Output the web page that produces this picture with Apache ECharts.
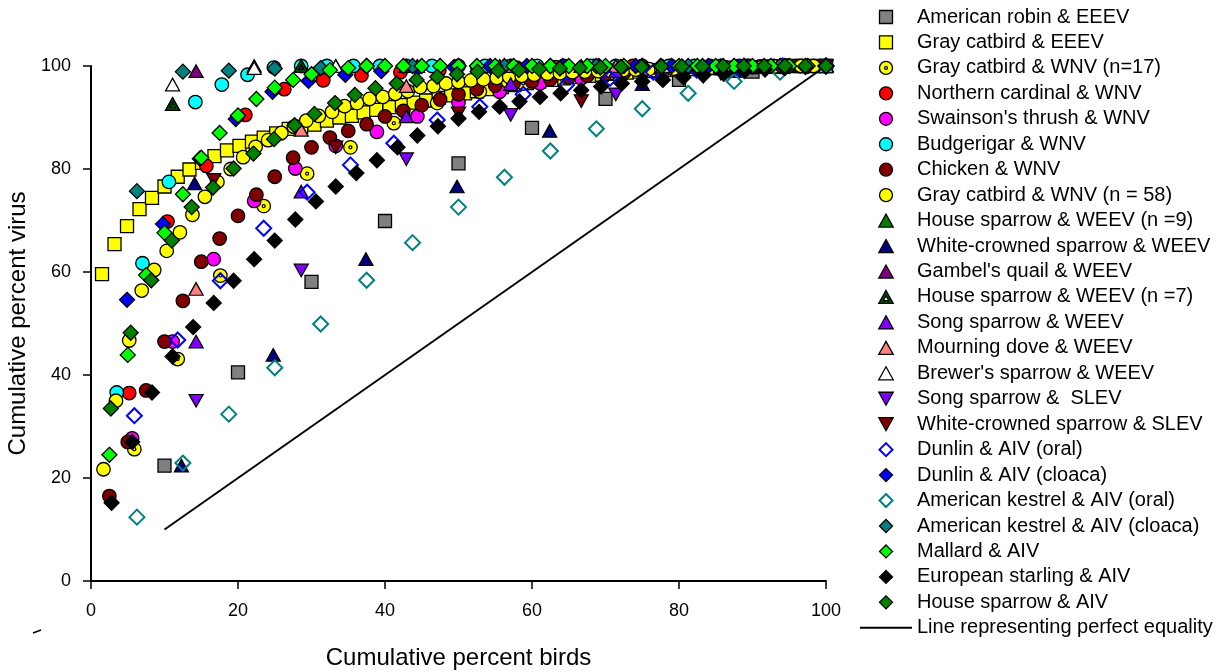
<!DOCTYPE html>
<html>
<head>
<meta charset="utf-8">
<title>Cumulative percent virus vs cumulative percent birds</title>
<script src="https://cdn.jsdelivr.net/npm/echarts@6/dist/echarts.min.js"></script>
<style>
  html, body { margin: 0; padding: 0; background: #fff; }
  #chart { width: 1226px; height: 672px; }
</style>
</head>
<body>
<div id="chart"></div>
<script>
// values (x = cumulative % birds, y = cumulative % virus)
const xTicks = [0, 20, 40, 60, 80, 100]

const robinX = [10, 20, 30, 40, 50, 60, 70, 80, 90, 100]
const robinY = [22.4, 40.5, 58.1, 69.9, 81.1, 88.0, 93.6, 97.3, 98.9, 100]

const catbirdEeevX = [1.5, 3.2, 4.9, 6.6, 8.3, 10.0, 11.8, 13.4, 15.1, 16.8, 18.5, 20.2, 21.9, 23.5, 25.2, 26.9, 28.6, 30.4, 32.1, 33.8,
  35.5, 37.1, 38.8, 40.6, 42.3, 43.9, 45.6, 47.3, 49.0, 50.9, 52.5, 54.2, 55.9, 57.6, 59.3, 61.0, 62.7, 64.4, 66.1, 67.8,
  69.5, 71.2, 72.9, 74.6, 76.3, 78.0, 79.7, 81.4, 83.1, 84.8, 86.5, 88.2, 89.9, 91.6, 93.3, 95.0, 96.7, 98.4, 100]
const catbirdEeevY = [59.6, 65.4, 68.9, 72.2, 74.4, 76.6, 78.5, 79.9, 81.2, 82.5, 83.6, 84.5, 85.3, 86.1, 86.9, 87.8, 88.2, 88.6, 89.4, 90.0,
  90.3, 91.0, 91.5, 92.0, 92.4, 92.9, 93.3, 93.8, 94.3, 94.7, 95.1, 95.5, 95.9, 96.3, 96.7, 97.0, 97.3, 97.6, 97.9, 98.1,
  98.3, 98.5, 98.7, 98.9, 99.0, 99.2, 99.3, 99.4, 99.5, 99.6, 99.7, 99.8, 99.8, 99.9, 99.9, 100, 100, 100, 100]

const catbird17X = [5.9, 11.8, 17.6, 23.5, 29.4, 35.3, 41.2, 47.1, 52.9, 58.8, 64.7, 70.6, 76.5, 82.4, 88.2, 94.1, 100]
const catbird17Y = [25.6, 43.1, 59.3, 72.8, 79.1, 84.2, 88.9, 92.8, 95.0, 96.6, 97.8, 98.6, 99.2, 99.6, 100, 100, 100]

const cardinalX = [5.2, 10.4, 15.7, 21.0, 26.3, 31.6, 36.8, 42.1, 47.4, 52.6, 57.9, 63.2, 68.4, 73.7, 78.9, 84.2, 89.5, 94.7, 100]
const cardinalY = [36.5, 69.8, 80.6, 90.5, 95.5, 97.2, 98.2, 98.8, 99.2, 99.5, 99.7, 99.8, 100, 100, 100, 100, 100, 100, 100]

const thrushX = [5.6, 11.1, 16.7, 22.2, 27.8, 33.3, 38.9, 44.4, 50, 55.6, 61.1, 66.7, 72.2, 77.8, 83.3, 88.9, 94.4, 100]
const thrushY = [27.7, 46.5, 62.5, 73.8, 80.1, 84.5, 87.2, 90.2, 92.9, 95.0, 96.6, 97.6, 98.4, 99.0, 99.5, 99.8, 100, 100]

const budgieX = [3.5, 7.0, 10.6, 14.2, 17.8, 21.3, 24.9, 28.6, 32.1, 35.7, 39.3, 42.9, 46.4, 50, 53.6, 57.1, 60.7, 64.3,
  67.9, 71.4, 75, 78.6, 82.1, 85.7, 89.3, 92.9, 96.4, 100]
const budgieY = [36.6, 61.7, 77.5, 93.0, 96.4, 98.3, 99.7, 100, 100, 100, 100, 100, 100, 100, 100, 100, 100, 100,
  100, 100, 100, 100, 100, 100, 100, 100, 100, 100]

const chickenX = [2.5, 5, 7.5, 10, 12.5, 15, 17.5, 20, 22.5, 25, 27.5, 30, 32.5, 35, 37.5, 40, 42.5, 45, 47.5, 50,
  52.5, 55, 57.5, 60, 62.5, 65, 67.5, 70, 72.5, 75, 77.5, 80, 82.5, 85, 87.5, 90, 92.5, 95, 97.5, 100]
const chickenY = [16.5, 27.0, 37.0, 46.5, 54.4, 62.0, 66.5, 70.9, 75.0, 78.5, 82.2, 84.2, 86.1, 87.4, 88.7, 90.2, 91.3, 92.4, 93.5, 94.5,
  95.5, 96.2, 96.6, 97.0, 97.4, 97.8, 98.1, 98.4, 98.7, 98.9, 99.1, 99.3, 99.5, 99.6, 99.7, 99.8, 99.9, 100, 100, 100]

const catbird58X = [1.7, 3.4, 5.2, 6.9, 8.6, 10.3, 12.1, 13.8, 15.5, 17.2, 19.0, 20.7, 22.4, 24.1, 25.9, 27.6, 29.3, 31.0, 32.8, 34.5,
  36.2, 37.9, 39.7, 41.4, 43.1, 44.8, 46.6, 48.3, 50.0, 51.7, 53.4, 55.2, 56.9, 58.6, 60.3, 62.1, 63.8, 65.5, 67.2, 69.0,
  70.7, 72.4, 74.1, 75.9, 77.6, 79.3, 81.0, 82.8, 84.5, 86.2, 87.9, 89.7, 91.4, 93.1, 94.8, 96.6, 98.3, 100]
const catbird58Y = [21.7, 35.0, 46.7, 56.4, 60.4, 64.1, 67.7, 71.1, 74.6, 77.5, 80.0, 82.3, 84.3, 85.6, 87.0, 88.2, 89.4, 90.3, 91.1, 92.2,
  92.8, 93.6, 94.0, 94.6, 95.1, 95.9, 96.1, 96.6, 96.9, 97.2, 97.4, 97.7, 97.9, 98.1, 98.3, 98.5, 98.6, 98.8, 98.9, 99.0,
  99.1, 99.2, 99.3, 99.4, 99.5, 99.5, 99.6, 99.7, 99.7, 99.8, 99.8, 99.9, 99.9, 99.9, 100, 100, 100, 100]

const hsWeev9X = [11.1, 22.2, 33.3, 44.4, 55.6, 66.7, 77.8, 88.9, 100]
const hsWeev9Y = [92.6, 100, 100, 100, 100, 100, 100, 100, 100]

const wcsWeevX = [12.3, 14.1, 24.8, 37.4, 49.8, 62.4, 75, 87.5, 100]
const wcsWeevY = [22.4, 77.2, 43.9, 62.5, 76.6, 87.4, 96.5, 99.0, 100]

const quailX = [14.3, 28.6, 42.9, 57.1, 71.4, 85.7, 100]
const quailY = [99.0, 100, 100, 100, 100, 100, 100]

const hsWeev7X = [11.1, 28.6, 42.9, 57.1, 71.4, 85.7, 100]
const hsWeev7Y = [92.6, 100, 100, 100, 100, 100, 100]

const songWeevX = [14.3, 28.6, 42.9, 57.1, 71.4, 85.7, 100]
const songWeevY = [46.5, 75.6, 90.2, 96.5, 99.0, 100, 100]

const doveX = [14.3, 28.6, 42.9, 57.1, 71.4, 85.7, 100]
const doveY = [56.7, 87.6, 96.1, 100, 100, 100, 100]

const brewerX = [11.1, 22.2, 33.3, 44.4, 55.6, 66.7, 77.8, 88.9, 100]
const brewerY = [96.4, 99.6, 100, 100, 100, 100, 100, 100, 100]

const songSlevX = [14.3, 28.6, 42.9, 57.1, 71.4, 85.7, 100]
const songSlevY = [35.0, 60.3, 81.9, 90.5, 94.5, 98.5, 100]

const wcsSlevX = [16.7, 33.3, 50, 66.7, 83.3, 100]
const wcsSlevY = [77.9, 84.2, 90.8, 93.2, 98.0, 100]

const dunlinOralX = [5.9, 11.8, 17.6, 23.5, 29.4, 35.3, 41.2, 47.1, 52.9, 58.8, 64.7, 70.6, 76.5, 82.4, 88.2, 94.1, 100]
const dunlinOralY = [32.1, 46.8, 58.3, 68.5, 75.5, 80.8, 85.0, 89.5, 92.1, 94.5, 96.3, 97.6, 98.8, 99.2, 99.6, 100, 100]

const dunlinCloacaX = [4.9, 9.8, 14.8, 19.7, 24.7, 29.6, 34.6, 39.5, 44.4, 49.4, 54.3, 59.3, 64.2, 69.1, 74.1, 79.0, 84.0, 88.9, 93.8, 100]
const dunlinCloacaY = [54.6, 69.3, 82.0, 89.7, 95.0, 97.1, 98.3, 99.0, 99.5, 99.8, 100, 100, 100, 100, 100, 100, 100, 100, 100, 100]

const kestrelOralX = [6.25, 12.5, 18.75, 25, 31.25, 37.5, 43.75, 50, 56.25, 62.5, 68.75, 75, 81.25, 87.5, 93.75, 100]
const kestrelOralY = [12.4, 22.9, 32.4, 41.4, 49.9, 58.4, 65.7, 72.6, 78.4, 83.5, 87.8, 91.7, 94.7, 97.0, 98.8, 100]

const kestrelCloacaX = [6.25, 12.5, 18.75, 25, 31.25, 37.5, 43.75, 50, 56.25, 62.5, 68.75, 75, 81.25, 87.5, 93.75, 100]
const kestrelCloacaY = [75.7, 98.9, 99.1, 99.5, 99.6, 100, 100, 100, 100, 100, 100, 100, 100, 100, 100, 100]

const mallardX = [2.5, 5, 7.5, 10, 12.5, 15, 17.5, 20, 22.5, 25, 27.5, 30, 32.5, 35, 37.5, 40, 42.5, 45, 47.5, 50,
  52.5, 55, 57.5, 60, 62.5, 65, 67.5, 70, 72.5, 75, 77.5, 80, 82.5, 85, 87.5, 90, 92.5, 95, 97.5, 100]
const mallardY = [24.5, 43.9, 59.4, 67.6, 75.1, 82.2, 87.0, 90.4, 93.6, 95.8, 97.3, 98.4, 99.2, 99.6, 100, 100, 100, 100, 100, 100,
  100, 100, 100, 100, 100, 100, 100, 100, 100, 100, 100, 100, 100, 100, 100, 100, 100, 100, 100, 100]

const starlingX = [2.8, 5.6, 8.3, 11.1, 13.9, 16.7, 19.4, 22.2, 25, 27.8, 30.6, 33.3, 36.1, 38.9, 41.7, 44.4, 47.2, 50,
  52.8, 55.6, 58.3, 61.1, 63.9, 66.7, 69.4, 72.2, 75, 77.8, 80.6, 83.3, 86.1, 88.9, 91.7, 94.4, 97.2, 100]
const starlingY = [15.2, 27.0, 36.6, 43.6, 49.3, 54.0, 58.3, 62.5, 66.1, 70.2, 73.7, 76.6, 79.2, 81.7, 84.2, 86.5, 88.3, 89.8,
  91.1, 92.1, 93.1, 94.0, 94.7, 95.3, 96.0, 96.6, 97.0, 97.3, 97.8, 98.2, 98.5, 99.0, 99.3, 99.6, 99.8, 100]

const hsAivX = [2.7, 5.4, 8.2, 11.0, 13.7, 16.6, 19.4, 22.1, 24.9, 27.7, 30.4, 33.2, 35.9, 38.7, 41.6, 44.3, 47.1, 49.8,
  52.6, 55.4, 58.2, 61.0, 63.8, 66.5, 69.3, 72.1, 74.9, 77.6, 80.4, 83.2, 86.0, 88.8, 91.6, 94.4, 97.2, 100]
const hsAivY = [33.5, 48.2, 58.4, 66.1, 72.6, 76.4, 80.1, 83.0, 85.8, 88.5, 90.7, 92.8, 94.4, 95.7, 96.6, 97.3, 97.9, 98.4,
  98.9, 99.1, 99.2, 99.4, 99.5, 99.6, 99.7, 99.8, 99.8, 99.9, 99.9, 100, 100, 100, 100, 100, 100, 100]

const equalityX = [10, 100]
const equalityY = [10, 100]

// marker shapes
const SQUARE = 'path://M0,0L10,0L10,10L0,10Z'
const TRI_UP = 'path://M5,0L10,9L0,9Z'
const TRI_UP_DOT = 'path://M5,0L10,9L0,9ZM5,3.6L3.2,7L6.8,7Z'
const TRI_DOWN = 'path://M0,0L10,0L5,9Z'
const DIAMOND = 'path://M5,0L10,5L5,10L0,5Z'
const DOT_CIRCLE = 'path://M10,0A10,10,0,1,1,10,20A10,10,0,1,1,10,0ZM10,7.8A2.2,2.2,0,1,0,10,12.2A2.2,2.2,0,1,0,10,7.8Z'
const BAR = 'path://M0,0L50,0L50,2L0,2Z'

const SQ = 13
const CI = 13.5
const TR = [14, 12.5]
const DI = 15

const zip = (xs, ys) => xs.map((x, i) => [x, ys[i]])

const defs = [
  { name: 'American robin & EEEV', x: robinX, y: robinY, symbol: SQUARE, size: SQ, color: '#808080' },
  { name: 'Gray catbird & EEEV', x: catbirdEeevX, y: catbirdEeevY, symbol: SQUARE, size: SQ, color: '#ffff00' },
  { name: 'Gray catbird & WNV (n=17)', x: catbird17X, y: catbird17Y, symbol: DOT_CIRCLE, size: CI, color: '#ffff00' },
  { name: 'Northern cardinal & WNV', x: cardinalX, y: cardinalY, symbol: 'circle', size: CI, color: '#ff0000' },
  { name: "Swainson's thrush & WNV", x: thrushX, y: thrushY, symbol: 'circle', size: CI, color: '#ff00ff' },
  { name: 'Budgerigar & WNV', x: budgieX, y: budgieY, symbol: 'circle', size: CI, color: '#00ffff' },
  { name: 'Chicken & WNV', x: chickenX, y: chickenY, symbol: 'circle', size: CI, color: '#800000' },
  { name: 'Gray catbird & WNV (n = 58)', x: catbird58X, y: catbird58Y, symbol: 'circle', size: CI, color: '#ffff00' },
  { name: 'House sparrow & WEEV (n =9)', x: hsWeev9X, y: hsWeev9Y, symbol: TRI_UP, size: TR, color: '#008000' },
  { name: 'White-crowned sparrow & WEEV', x: wcsWeevX, y: wcsWeevY, symbol: TRI_UP, size: TR, color: '#000080' },
  { name: "Gambel's quail & WEEV", x: quailX, y: quailY, symbol: TRI_UP, size: TR, color: '#800080' },
  { name: 'House sparrow & WEEV (n =7)', x: hsWeev7X, y: hsWeev7Y, symbol: TRI_UP_DOT, size: TR, color: '#005000' },
  { name: 'Song sparrow & WEEV', x: songWeevX, y: songWeevY, symbol: TRI_UP, size: TR, color: '#8000ff' },
  { name: 'Mourning dove & WEEV', x: doveX, y: doveY, symbol: TRI_UP, size: TR, color: '#ff8080' },
  { name: "Brewer's sparrow & WEEV", x: brewerX, y: brewerY, symbol: TRI_UP, size: TR, color: '#ffffff' },
  { name: 'Song sparrow &  SLEV', x: songSlevX, y: songSlevY, symbol: TRI_DOWN, size: TR, color: '#8000ff' },
  { name: 'White-crowned sparrow & SLEV', x: wcsSlevX, y: wcsSlevY, symbol: TRI_DOWN, size: TR, color: '#800000' },
  { name: 'Dunlin & AIV (oral)', x: dunlinOralX, y: dunlinOralY, symbol: DIAMOND, size: DI, color: 'rgba(255,255,255,0)', border: '#0000ff', bw: 2 },
  { name: 'Dunlin & AIV (cloaca)', x: dunlinCloacaX, y: dunlinCloacaY, symbol: DIAMOND, size: DI, color: '#0000ff' },
  { name: 'American kestrel & AIV (oral)', x: kestrelOralX, y: kestrelOralY, symbol: DIAMOND, size: DI, color: 'rgba(255,255,255,0)', border: '#008080', bw: 2 },
  { name: 'American kestrel & AIV (cloaca)', x: kestrelCloacaX, y: kestrelCloacaY, symbol: DIAMOND, size: DI, color: '#008080' },
  { name: 'Mallard & AIV', x: mallardX, y: mallardY, symbol: DIAMOND, size: DI, color: '#00ff00' },
  { name: 'European starling & AIV', x: starlingX, y: starlingY, symbol: DIAMOND, size: DI, color: '#000000' },
  { name: 'House sparrow & AIV', x: hsAivX, y: hsAivY, symbol: DIAMOND, size: DI, color: '#008000' }
]
const lineName = 'Line representing perfect equality'

const font = 'Liberation Sans, Arial, Helvetica, sans-serif'

const series = defs.map(d => ({
  name: d.name,
  type: 'scatter',
  data: zip(d.x, d.y),
  symbol: d.symbol,
  symbolSize: d.size,
  clip: false,
  z: 3,
  itemStyle: {
    color: d.color,
    borderColor: d.border || '#000',
    borderWidth: d.bw || 1.3,
    opacity: 1
  },
  emphasis: { disabled: true }
}))
series.push({
  name: lineName,
  type: 'line',
  data: zip(equalityX, equalityY),
  symbol: 'none',
  showSymbol: false,
  z: 1,
  lineStyle: { color: '#000', width: 2 },
  itemStyle: { color: '#000' },
  emphasis: { disabled: true }
})

const legendData = defs.map(d => ({
  name: d.name,
  itemStyle: { borderWidth: d.bw || 1.3, borderColor: d.border || '#000' }
}))
legendData.push({ name: lineName, icon: BAR, itemStyle: { color: '#000', borderWidth: 0 } })

const axisCommon = {
  type: 'value',
  min: 0,
  max: 100,
  interval: 20,
  splitLine: { show: false },
  axisLine: { show: true, onZero: false, lineStyle: { color: '#000', width: 2 } },
  axisTick: { show: true, inside: false, length: 8, lineStyle: { color: '#000', width: 1.5 } },
  axisLabel: { color: '#000', fontSize: 18, fontFamily: font },
  nameLocation: 'middle',
  nameTextStyle: { color: '#000', fontSize: 24, fontFamily: font }
}

const chart = echarts.init(document.getElementById('chart'), null, { renderer: 'canvas' })
chart.setOption({
  backgroundColor: '#fff',
  animation: false,
  textStyle: { fontFamily: font, color: '#000' },
  grid: { left: 91, right: 400, top: 66, bottom: 91, containLabel: false, outerBoundsMode: 'none' },
  xAxis: Object.assign({}, axisCommon, {
    name: 'Cumulative percent birds',
    nameGap: 65,
    axisLabel: Object.assign({}, axisCommon.axisLabel, {
      margin: 21,
      formatter: v => (xTicks.indexOf(v) >= 0 ? String(v) : '')
    })
  }),
  yAxis: Object.assign({}, axisCommon, {
    name: 'Cumulative percent virus',
    nameGap: 61,
    nameRotate: 90,
    axisLabel: Object.assign({}, axisCommon.axisLabel, { margin: 20 })
  }),
  legend: {
    orient: 'vertical',
    left: 860,
    top: 7,
    padding: 0,
    itemWidth: 52,
    itemHeight: 13,
    itemGap: 5.45,
    selectedMode: false,
    textStyle: { color: '#000', fontSize: 20, lineHeight: 20, fontFamily: font },
    data: legendData
  },
  graphic: [
    { type: 'line', shape: { x1: 33, y1: 633, x2: 41, y2: 630 }, style: { stroke: '#000', lineWidth: 1.5 } }
  ],
  series: series
})
window.addEventListener('resize', () => chart.resize())
</script>
</body>
</html>
